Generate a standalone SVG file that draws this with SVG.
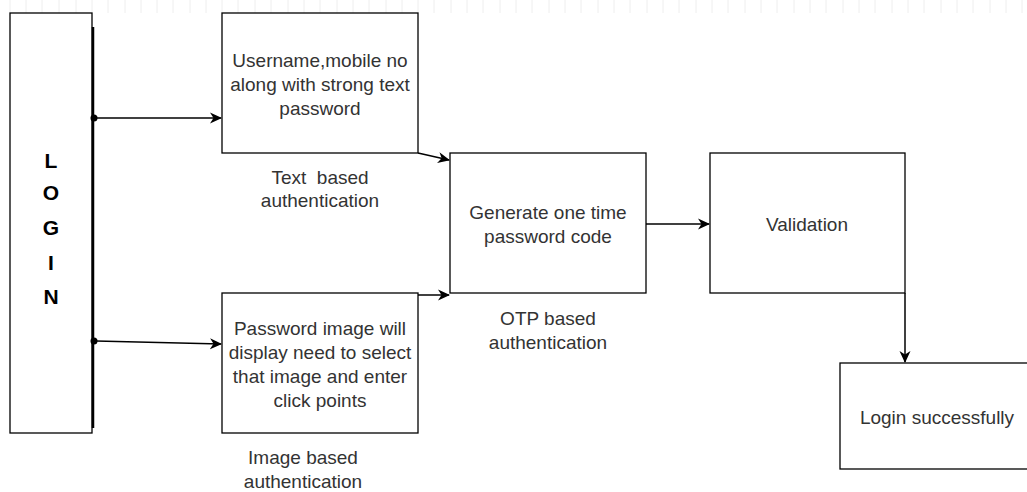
<svg xmlns="http://www.w3.org/2000/svg" width="1027" height="492" viewBox="0 0 1027 492">
<style>
.box{fill:#fff;stroke:#000;stroke-width:1.3}
.t{font-family:"Liberation Sans",Arial,sans-serif;font-size:19px;fill:#333;text-anchor:middle}
.big{font-family:"Liberation Sans",Arial,sans-serif;font-size:21px;font-weight:bold;fill:#000;text-anchor:middle}
.c{fill:none;stroke:#000;stroke-width:1.5}
.grid{stroke:#eeeeee;stroke-width:1}
</style>
<defs>
<marker id="ah" markerWidth="12" markerHeight="12" refX="11" refY="6" orient="auto" markerUnits="userSpaceOnUse">
<path d="M0,0.5 L12,6 L0,11.5 L3.5,6 Z" fill="#000"/>
</marker>
</defs>
<rect width="1027" height="492" fill="#fff"/>
<g id="grid">
<path class="grid" d="M10,0V13M26,0V13M42,0V13M59,0V13M76,0V13M92,0V13M108,0V13M125,0V13M141,0V13M157,0V13M173,0V13M190,0V13M206,0V13M222,0V13M238,0V13M255,0V13M271,0V13M288,0V13M304,0V13M320,0V13M337,0V13M353,0V13M369,0V13M386,0V13M402,0V13M418,0V13M434,0V13M451,0V13M467,0V13M483,0V13M500,0V13M516,0V13M532,0V13M549,0V13M565,0V13M581,0V13M598,0V13M614,0V13M630,0V13M647,0V13M663,0V13M679,0V13M696,0V13M712,0V13M728,0V13M745,0V13M761,0V13M777,0V13M794,0V13M810,0V13M826,0V13M843,0V13M859,0V13M875,0V13M892,0V13M908,0V13M924,0V13M941,0V13M957,0V13M973,0V13M990,0V13M1006,0V13M1022,0V13"/>
</g>
<g id="login">
<rect class="box" x="10" y="13" width="82" height="420"/>
<line x1="93" y1="27" x2="93" y2="428" stroke="#000" stroke-width="2.5"/>
<text class="big" x="51" y="168">L</text>
<text class="big" x="51" y="200">O</text>
<text class="big" x="51" y="235">G</text>
<text class="big" x="51" y="270">I</text>
<text class="big" x="51" y="304">N</text>
</g>
<g id="text-box">
<rect class="box" x="222" y="13" width="196" height="140"/>
<text class="t" x="320" y="67">Username,mobile no</text>
<text class="t" x="320" y="91">along with strong text</text>
<text class="t" x="320" y="115">password</text>
</g>
<g id="text-caption">
<text class="t" x="320" y="184" xml:space="preserve">Text  based</text>
<text class="t" x="320" y="207">authentication</text>
</g>
<g id="image-box">
<rect class="box" x="222" y="293" width="196" height="140"/>
<text class="t" x="320" y="335">Password image will</text>
<text class="t" x="320" y="359">display need to select</text>
<text class="t" x="320" y="383">that image and enter</text>
<text class="t" x="320" y="407">click points</text>
</g>
<g id="image-caption">
<text class="t" x="303" y="464">Image based</text>
<text class="t" x="303" y="488">authentication</text>
</g>
<g id="otp-box">
<rect class="box" x="450" y="153" width="196" height="140"/>
<text class="t" x="548" y="219">Generate one time</text>
<text class="t" x="548" y="243">password code</text>
</g>
<g id="otp-caption">
<text class="t" x="548" y="325">OTP based</text>
<text class="t" x="548" y="349">authentication</text>
</g>
<g id="validation">
<rect class="box" x="710" y="153" width="195" height="140"/>
<text class="t" x="807" y="231">Validation</text>
</g>
<g id="success">
<rect class="box" x="840" y="363" width="200" height="106"/>
<text class="t" x="937" y="424">Login successfully</text>
</g>
<g id="connectors">
<circle cx="94" cy="118" r="3.5" fill="#000"/>
<circle cx="94" cy="341" r="3.5" fill="#000"/>
<path class="c" d="M96,118 H221" marker-end="url(#ah)"/>
<path class="c" d="M96,341 L221,344" marker-end="url(#ah)"/>
<path class="c" d="M418,153 L449,160" marker-end="url(#ah)"/>
<path class="c" d="M418,295 H449" marker-end="url(#ah)"/>
<path class="c" d="M646,224 H709" marker-end="url(#ah)"/>
<path class="c" d="M905,293 V362" marker-end="url(#ah)"/>
</g>
</svg>
